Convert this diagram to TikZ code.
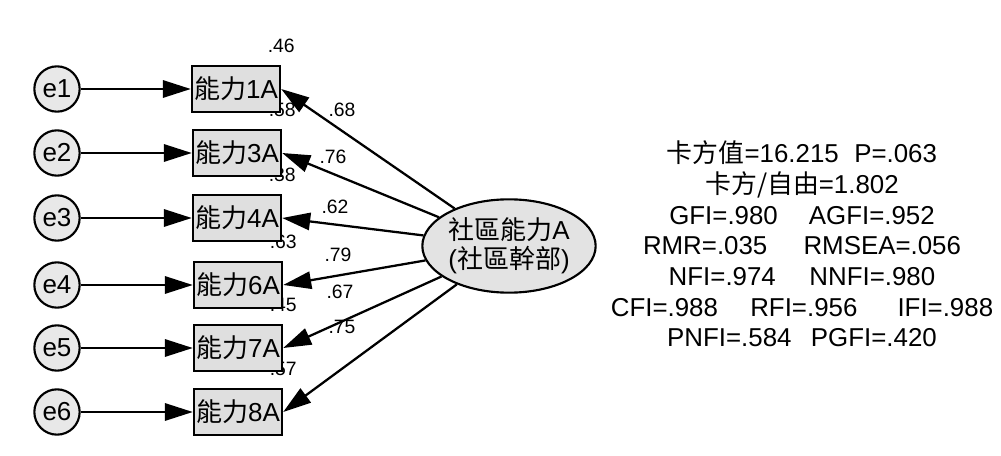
\documentclass[tikz,border=0pt]{standalone}
\usepackage{fontspec}
\setmainfont{Liberation Sans}
\newfontfamily\cjk{Noto Sans CJK TC}
\usetikzlibrary{arrows.meta,shapes.geometric}
\pgfdeclarelayer{background}
\pgfsetlayers{background,main}

\begin{document}
\begin{tikzpicture}[
                x=0.75pt, y=-0.75pt,
                errnode/.style={
                    draw=black,
                    fill=gray!18,
                    circle,
                    line width=1.6pt,
                    minimum size=34pt,
                    inner sep=0pt,
                    font=\fontsize{19.5}{22}\selectfont
                },
                itembox/.style={
                    draw=black,
                    fill=gray!25,
                    rectangle,
                    line width=1.8pt,
                    minimum width=66pt,
                    minimum height=34.5pt,
                    inner sep=0pt,
                    font=\fontsize{19.5}{22}\selectfont
                },
                latent/.style={
                    draw=black,
                    fill=gray!22,
                    ellipse,
                    line width=1.6pt,
                    minimum width=130pt,
                    minimum height=70pt,
                    inner sep=0pt,
                    align=center,
                    font=\fontsize{19.5}{22}\selectfont
                },
                coef/.style={
                    inner sep=0pt,
                    font=\fontsize{14.5}{17}\selectfont
                },
                arrow/.style={
                    -{Triangle[length=21pt,width=13pt]},
                    line width=1.7pt
                }
            ]
                \useasboundingbox (0,0) rectangle (1001,456);

                \node[errnode] (e1) at (57,89)  {e1};
                \node[errnode] (e2) at (57,153) {e2};
                \node[errnode] (e3) at (57,218) {e3};
                \node[errnode] (e4) at (57,285) {e4};
                \node[errnode] (e5) at (57,348) {e5};
                \node[errnode] (e6) at (57,412) {e6};

                \node[itembox] (b1) at (236,89)  {{\cjk 能力}1A};
                \node[itembox] (b3) at (237,153) {{\cjk 能力}3A};
                \node[itembox] (b4) at (237,218) {{\cjk 能力}4A};
                \node[itembox] (b6) at (238,285) {{\cjk 能力}6A};
                \node[itembox] (b7) at (238,348) {{\cjk 能力}7A};
                \node[itembox] (b8) at (238,412) {{\cjk 能力}8A};

                \node[latent] (lat) at (509,246) {{\cjk 社區能力}A\\({\cjk 社區幹部})};

                % squared multiple correlations
                \begin{pgfonlayer}{background}
                \node[coef] (r1) at ([yshift=14pt]b1.north east) {.46};
                \node[coef] (r3) at ([yshift=14pt]b3.north east) {.58};
                \node[coef] (r4) at ([yshift=14pt]b4.north east) {.38};
                \node[coef] (r6) at ([yshift=14pt]b6.north east) {.63};
                \node[coef] (r7) at ([yshift=14pt]b7.north east) {.45};
                \node[coef] (r8) at ([yshift=14pt]b8.north east) {.57};
                \end{pgfonlayer}

                \draw[arrow] (e1) -- (b1);
                \draw[arrow] (e2) -- (b3);
                \draw[arrow] (e3) -- (b4);
                \draw[arrow] (e4) -- (b6);
                \draw[arrow] (e5) -- (b7);
                \draw[arrow] (e6) -- (b8);

                \draw[arrow] (lat) -- (b1.east);
                \draw[arrow] (lat) -- (b3.east);
                \draw[arrow] (lat) -- (b4.east);
                \draw[arrow] (lat) -- (b6.east);
                \draw[arrow] (lat) -- (b7.east);
                \draw[arrow] (lat) -- (b8.east);

                % loadings
                \node[coef] (l1) at (342,110) {.68};
                \node[coef] (l3) at (333,157) {.76};
                \node[coef] (l4) at (335,207) {.62};
                \node[coef] (l6) at (338,255) {.79};
                \node[coef] (l7) at (340,292) {.67};
                \node[coef] (l8) at (342,327) {.75};

                % fit indices
                \node[align=center, inner sep=0pt, font=\fontsize{19.4}{23}\selectfont] (fit) at (802,244) {%
                    {\cjk 卡方值}=16.215\hspace{0.6em}P=.063\\
                    {\cjk 卡方/自由}=1.802\\
                    GFI=.980\hspace{1.2em}AGFI=.952\\
                    RMR=.035\hspace{1.4em}RMSEA=.056\\
                    NFI=.974\hspace{1.3em}NNFI=.980\\
                    CFI=.988\hspace{1.25em}RFI=.956\hspace{1.55em}IFI=.988\\
                    PNFI=.584\hspace{0.75em}PGFI=.420};
        \end{tikzpicture}
\end{document}
